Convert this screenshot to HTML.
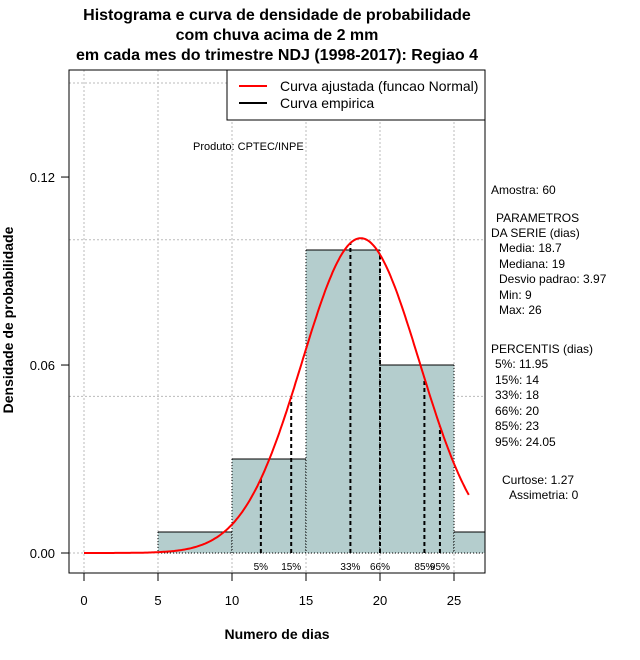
<!DOCTYPE html>
<html><head><meta charset="utf-8"><style>
body{margin:0;background:#fff;}
svg{display:block;font-family:"Liberation Sans",sans-serif;}
</style></head><body>
<svg id="c" width="640" height="660" xmlns="http://www.w3.org/2000/svg">
<rect width="640" height="660" fill="#fff"/>
<g font-weight="bold" font-size="16" text-anchor="middle">
<text x="277" y="20">Histograma e curva de densidade de probabilidade</text>
<text x="277" y="40">com chuva acima de 2 mm</text>
<text x="277" y="60">em cada mes do trimestre NDJ (1998-2017): Regiao 4</text>
</g>
<g id="grid"></g>
<g id="bars"></g>
<g id="pct"></g>
<path id="curve" fill="none" stroke="#f00" stroke-width="2"/>
<rect x="69" y="70" width="416" height="503" fill="none" stroke="#000"/>
<g id="axes" font-size="13"></g>
<text x="277" y="639" font-size="14" font-weight="bold" text-anchor="middle">Numero de dias</text>
<text transform="translate(13,320) rotate(-90)" font-size="14" font-weight="bold" text-anchor="middle">Densidade de probabilidade</text>
<g>
<rect x="227" y="70" width="258" height="50" fill="#fff" stroke="#000"/>
<line x1="239" y1="86" x2="267" y2="86" stroke="#f00" stroke-width="2"/>
<line x1="239" y1="103" x2="267" y2="103" stroke="#000" stroke-width="2"/>
<text x="280" y="91" font-size="14">Curva ajustada (funcao Normal)</text>
<text x="280" y="108" font-size="14">Curva empirica</text>
</g>
<text x="193" y="150" font-size="11">Produto: CPTEC/INPE</text>
<g font-size="12">
<text x="491" y="194">Amostra: 60</text>
<text x="496" y="222">PARAMETROS</text>
<text x="491" y="237">DA SERIE (dias)</text>
<text x="499" y="252">Media: 18.7</text>
<text x="499" y="268">Mediana: 19</text>
<text x="499" y="283">Desvio padrao: 3.97</text>
<text x="499" y="299">Min: 9</text>
<text x="499" y="314">Max: 26</text>
<text x="491" y="353">PERCENTIS (dias)</text>
<text x="495" y="368">5%: 11.95</text>
<text x="495" y="384">15%: 14</text>
<text x="495" y="399">33%: 18</text>
<text x="495" y="415">66%: 20</text>
<text x="495" y="430">85%: 23</text>
<text x="495" y="446">95%: 24.05</text>
<text x="502" y="484">Curtose: 1.27</text>
<text x="509" y="499">Assimetria: 0</text>
</g>
</svg>
<script>
const binEdges=[5,10,15,20,25,30];
const binDensity=[0.0067,0.03,0.0967,0.06,0.0067];
const pctLabels=["5%","15%","33%","66%","85%","95%"];
const pctValues=[11.95,14,18,20,23,24.05];
const mean=18.7, sd=3.97, curveMin=0, curveMax=26;
const xTicks=[0,5,10,15,20,25];
const yTicks=[0.00,0.06,0.12];
const yTickLabels=["0.00","0.06","0.12"];
const yGrid=[0,0.05,0.1,0.15];

const NS="http://www.w3.org/2000/svg";
const X=v=>84+v*14.8, Y=v=>553-v*3133;
function mk(p,t,a){const e=document.createElementNS(NS,t);for(const k in a)e.setAttribute(k,a[k]);document.getElementById(p).appendChild(e);return e;}
const dens=x=>Math.exp(-0.5*((x-mean)/sd)**2)/(sd*Math.sqrt(2*Math.PI));

xTicks.forEach(v=>{const e=mk('grid','line',{x1:X(v),x2:X(v),y1:70,y2:573,stroke:'#bbb','stroke-dasharray':'2,2'});
});
yGrid.forEach(v=>{const e=mk('grid','line',{x1:69,x2:485,y1:Y(v),y2:Y(v),stroke:'#bbb','stroke-dasharray':'2,2'});
});

binDensity.forEach((d,i)=>{
 const x0=X(binEdges[i]),x1=Math.min(X(binEdges[i+1]),485),y=Y(d);
 const r=mk('bars','rect',{x:x0,y:y,width:x1-x0,height:Y(0)-y,fill:'#b4cdcd'});
 
 mk('bars','line',{x1:x0,x2:x1,y1:y,y2:y,stroke:'#000','stroke-width':1});
 mk('bars','line',{x1:x0,x2:x0,y1:y,y2:Y(0),stroke:'#000','stroke-dasharray':'1,2'});
 if(x1<485)mk('bars','line',{x1:x1,x2:x1,y1:y,y2:Y(0),stroke:'#000','stroke-dasharray':'1,2'});
});
mk('bars','line',{x1:X(binEdges[0]),x2:485,y1:Y(0),y2:Y(0),stroke:'#000','stroke-dasharray':'1,2'});

pctValues.forEach((v,i)=>{
 const l=mk('pct','line',{x1:X(v),x2:X(v),y1:Y(0),y2:Y(dens(v)),stroke:'#000','stroke-width':2,'stroke-dasharray':'4,3'});
 
 const t=mk('pct','text',{x:X(v),y:570,'font-size':10,'text-anchor':'middle'});t.textContent=pctLabels[i];
 
});

let d='';for(let x=curveMin;x<=curveMax+1e-9;x+=0.1)d+=(d?'L':'M')+X(x).toFixed(1)+','+Y(dens(x)).toFixed(1);
document.getElementById('curve').setAttribute('d',d);

xTicks.forEach(v=>{mk('axes','line',{x1:X(v),x2:X(v),y1:573,y2:581,stroke:'#000'});
 const t=mk('axes','text',{x:X(v),y:605,'text-anchor':'middle'});t.textContent=v;
 });
yTicks.forEach((v,i)=>{mk('axes','line',{x1:61,x2:69,y1:Y(v),y2:Y(v),stroke:'#000'});
 const t=mk('axes','text',{x:55,y:Y(v)+5,'text-anchor':'end'});t.textContent=yTickLabels[i];
 });
</script>
</body></html>
